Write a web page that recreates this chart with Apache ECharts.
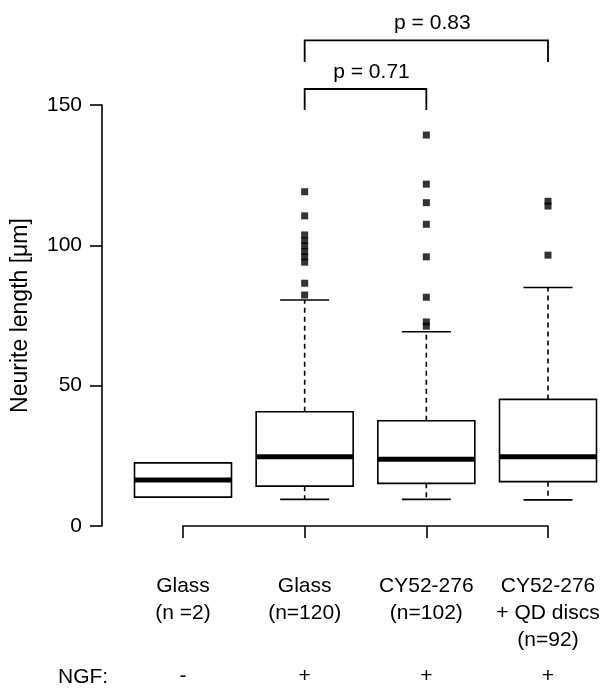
<!DOCTYPE html>
<html>
<head>
<meta charset="utf-8">
<script src="https://cdn.jsdelivr.net/npm/echarts@6/dist/echarts.min.js"></script>
<style>
  html, body { margin: 0; padding: 0; background: #fff; }
  #chart { width: 603px; height: 691px; }
</style>
</head>
<body>
<div id="chart"></div>
<script>
// categories (x axis) and NGF row
var categories = ["Glass\n(n =2)", "Glass\n(n=120)", "CY52-276\n(n=102)", "CY52-276\n+ QD discs\n(n=92)"];
var ngfLabels = ["-", "+", "+", "+"];

// box stats per category: [lower whisker, Q1, median, Q3, upper whisker]
var boxStats = [
  [10.3, 10.3, 16.4, 22.5, 22.5],
  [9.5, 14.2, 24.7, 40.7, 80.5],
  [9.5, 15.2, 23.8, 37.5, 69.2],
  [9.3, 15.8, 24.7, 45.1, 85.0]
];

// outliers per category
var outliers = [
  [],
  [119.1, 110.5, 103.7, 101.7, 99.8, 97.8, 95.9, 94.0, 86.5, 82.3],
  [139.3, 121.8, 115.2, 107.5, 95.9, 81.5, 72.7, 71.2],
  [115.7, 114.0, 96.5]
];

// significance brackets: [from, to, bar height, leg end, label]
var brackets = [
  [1, 2, 155.7, 148.2, "p = 0.71"],
  [1, 3, 173.0, 165.3, "p = 0.83"]
];

var yTicks = [0, 50, 100, 150];

var FONT = "Liberation Sans, Arial, sans-serif";
var FS = 21;

var chart = echarts.init(document.getElementById("chart"));

var outlierData = [];
outliers.forEach(function (list, i) {
  list.forEach(function (v) { outlierData.push([i, v]); });
});

var boxData = boxStats.map(function (s, i) { return [i].concat(s); });

function renderBox(params, api) {
  var x = api.value(0);
  var lo = api.coord([x, api.value(1)]);
  var q1 = api.coord([x, api.value(2)]);
  var med = api.coord([x, api.value(3)]);
  var q3 = api.coord([x, api.value(4)]);
  var hi = api.coord([x, api.value(5)]);
  var hw = 48.5, sw = 24.5;
  var cx = q1[0];
  var line = { stroke: "#000", lineWidth: 1.6 };
  var dash = { stroke: "#000", lineWidth: 1.6, lineDash: [5, 4] };
  return {
    type: "group",
    children: [
      { type: "line", shape: { x1: cx, y1: q3[1], x2: cx, y2: hi[1] }, style: dash },
      { type: "line", shape: { x1: cx, y1: q1[1], x2: cx, y2: lo[1] }, style: dash },
      { type: "line", shape: { x1: cx - sw, y1: hi[1], x2: cx + sw, y2: hi[1] }, style: line },
      { type: "line", shape: { x1: cx - sw, y1: lo[1], x2: cx + sw, y2: lo[1] }, style: line },
      { type: "rect", shape: { x: cx - hw, y: q3[1], width: hw * 2, height: q1[1] - q3[1] },
        style: { fill: "#fff", stroke: "#000", lineWidth: 1.6 } },
      { type: "line", shape: { x1: cx - hw, y1: med[1], x2: cx + hw, y2: med[1] },
        style: { stroke: "#000", lineWidth: 5 } }
    ]
  };
}

function renderBracket(params, api) {
  var a = api.value(0), b = api.value(1);
  var top = api.value(2), leg = api.value(3);
  var p1 = api.coord([a, top]), p2 = api.coord([b, top]);
  var l1 = api.coord([a, leg]);
  var label = brackets[params.dataIndex][4];
  return {
    type: "group",
    children: [
      { type: "polyline",
        shape: { points: [[p1[0], l1[1]], [p1[0], p1[1]], [p2[0], p2[1]], [p2[0], l1[1]]] },
        style: { stroke: "#000", lineWidth: 1.8, fill: null } },
      { type: "text",
        style: { text: label, x: (p1[0] + p2[0]) / 2 + 6, y: p1[1] - 17,
          align: "center", verticalAlign: "middle", fill: "#000",
          font: FS + "px " + FONT } }
    ]
  };
}

chart.setOption({
  animation: false,
  textStyle: { fontFamily: FONT },
  grid: { left: 183, right: 55, top: 105, bottom: 165 },
  xAxis: [
    {
      type: "category",
      data: categories,
      boundaryGap: false,
      position: "bottom",
      offset: 19,
      axisLine: { show: true, lineStyle: { color: "#000", width: 1.6 } },
      axisTick: { show: true, length: 12, lineStyle: { color: "#000", width: 1.6 } },
      axisLabel: { color: "#000", fontSize: FS, lineHeight: 27, margin: 28,
        verticalAlign: "top", interval: 0, fontFamily: FONT },
      splitLine: { show: false }
    },
    {
      type: "category",
      data: categories,
      boundaryGap: false,
      position: "bottom",
      offset: 19,
      axisLine: { show: false },
      axisTick: { show: false },
      axisLabel: { color: "#000", fontSize: FS, margin: 121, interval: 0,
        verticalAlign: "top", fontFamily: FONT,
        formatter: function (v, i) { return ngfLabels[i]; } },
      splitLine: { show: false }
    }
  ],
  yAxis: {
    type: "value",
    min: 0,
    max: 150,
    interval: 50,
    offset: 81,
    name: "Neurite length [μm]",
    nameLocation: "middle",
    nameGap: 70,
    nameTextStyle: { color: "#000", fontSize: 23, fontFamily: FONT },
    axisLine: { show: true, lineStyle: { color: "#000", width: 1.6 } },
    axisTick: { show: true, length: 12, lineStyle: { color: "#000", width: 1.6 } },
    axisLabel: { color: "#000", fontSize: FS, margin: 20, fontFamily: FONT,
      customValues: yTicks },
    splitLine: { show: false }
  },
  graphic: [
    { type: "text", left: 58, top: 667,
      style: { text: "NGF:", fill: "#000", font: FS + "px " + FONT } }
  ],
  series: [
    {
      type: "custom",
      data: boxData,
      renderItem: renderBox,
      encode: { x: 0, y: [1, 2, 3, 4, 5] },
      clip: false,
      z: 2
    },
    {
      type: "scatter",
      data: outlierData,
      symbol: "rect",
      symbolSize: [7, 7],
      itemStyle: { color: "#000" },
      z: 3
    },
    {
      type: "custom",
      data: brackets.map(function (b) { return [b[0], b[1], b[2], b[3]]; }),
      renderItem: renderBracket,
      encode: { x: [0, 1], y: [2, 3] },
      clip: false,
      z: 4
    }
  ]
});
</script>
</body>
</html>
